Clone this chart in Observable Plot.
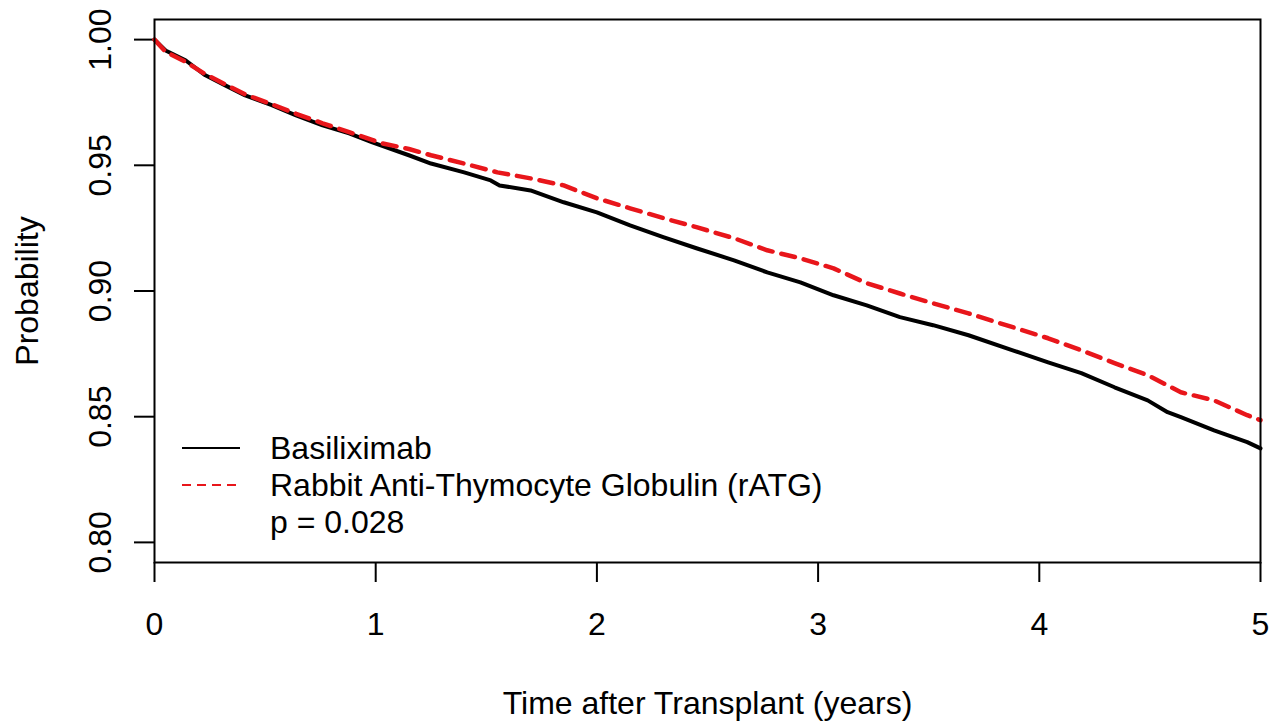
<!DOCTYPE html>
<html><head><meta charset="utf-8">
<script src="https://cdn.jsdelivr.net/npm/d3@7"></script>
<script src="https://cdn.jsdelivr.net/npm/@observablehq/plot@0.6"></script>
<style>html,body{margin:0;padding:0;background:#fff;} svg{display:block}</style>
</head><body><div id="chart"></div>
<script>
// Basiliximab (black solid)
const basiliximabTime = [0, 0.05, 0.14, 0.23, 0.32, 0.41, 0.53, 0.64, 0.76, 0.88, 0.985, 1.15, 1.25, 1.40, 1.52, 1.56, 1.70, 1.85, 2.0, 2.15, 2.30, 2.45, 2.62, 2.77, 2.92, 3.07, 3.22, 3.37, 3.52, 3.68, 3.88, 4.04, 4.19, 4.34, 4.49, 4.58, 4.64, 4.79, 4.94, 5.0];
const basiliximabSurv = [1.0, 0.9957, 0.9918, 0.9858, 0.9818, 0.9778, 0.9739, 0.9699, 0.9659, 0.9627, 0.9591, 0.954, 0.9507, 0.9472, 0.944, 0.942, 0.940, 0.9353, 0.9313, 0.9261, 0.9214, 0.9170, 0.9122, 0.9074, 0.9034, 0.8983, 0.8943, 0.8896, 0.8864, 0.8824, 0.8764, 0.8716, 0.8673, 0.8617, 0.8565, 0.8518, 0.8498, 0.8446, 0.8399, 0.8374];
// Rabbit Anti-Thymocyte Globulin (red dashed)
const ratgTime = [0, 0.05, 0.14, 0.23, 0.32, 0.41, 0.53, 0.64, 0.76, 0.88, 1.03, 1.15, 1.25, 1.40, 1.55, 1.70, 1.85, 2.0, 2.15, 2.30, 2.45, 2.62, 2.77, 2.92, 3.07, 3.22, 3.37, 3.52, 3.68, 3.88, 4.04, 4.19, 4.34, 4.49, 4.64, 4.79, 4.94, 5.0];
const ratgSurv = [1.0, 0.9952, 0.9912, 0.9862, 0.9822, 0.9782, 0.9743, 0.9705, 0.9667, 0.9632, 0.9587, 0.9565, 0.954, 0.9507, 0.9472, 0.9448, 0.942, 0.9369, 0.9329, 0.929, 0.9254, 0.921, 0.9162, 0.913, 0.909, 0.9031, 0.899, 0.8951, 0.8911, 0.8856, 0.8812, 0.8764, 0.8713, 0.8665, 0.8597, 0.8565, 0.8506, 0.8486];

const xTicks = [0, 1, 2, 3, 4, 5];
const yTicks = [0.80, 0.85, 0.90, 0.95, 1.00];
const seriesNames = ["Basiliximab", "Rabbit Anti-Thymocyte Globulin (rATG)"];
const pLabel = "p = 0.028";
const xLabel = "Time after Transplant (years)";
const yLabel = "Probability";

const basRows = basiliximabTime.map((t, i) => ({t, s: basiliximabSurv[i]}));
const ratgRows = ratgTime.map((t, i) => ({t, s: ratgSurv[i]}));

const font = "'Liberation Sans', Arial, Helvetica, sans-serif";
const RED = "#e8161b";

function legendMark(index, scales, values, dims) {
  const g = d3.create("svg:g").attr("font-family", font).attr("font-size", 32).attr("fill", "#000").attr("text-anchor", "start");
  const x0 = dims.marginLeft, yb = dims.height - dims.marginBottom;
  const items = [
    {name: seriesNames[0], stroke: "#000", dash: null},
    {name: seriesNames[1], stroke: RED, dash: "9,6"},
    {name: pLabel}
  ];
  items.forEach((it, i) => {
    const y = yb - 114 + i * 37;
    if (it.stroke) {
      const ln = g.append("line").attr("x1", x0 + 28).attr("x2", x0 + 86).attr("y1", y).attr("y2", y)
        .attr("stroke", it.stroke).attr("stroke-width", 2);
      if (it.dash) ln.attr("stroke-dasharray", it.dash);
    }
    g.append("text").attr("x", x0 + 116).attr("y", y).attr("dy", "0.35em").attr("text-anchor", "start").text(it.name);
  });
  return g.node();
}

const chart = Plot.plot({
  width: 1273, height: 721,
  marginLeft: 154, marginRight: 13, marginTop: 19, marginBottom: 159,
  style: {fontFamily: font, fontSize: "32px", color: "#000", background: "#fff"},
  x: {domain: [0, 5]},
  y: {domain: [0.792, 1.008]},
  marks: [
    Plot.axisX({ticks: xTicks, tickSize: 20, tickPadding: 30, tickFormat: d => String(d), strokeWidth: 2, fontSize: 32, label: null}),
    Plot.axisY({ticks: yTicks, tickSize: 20, tickFormat: () => "", strokeWidth: 2, label: null}),
    Plot.axisY({ticks: yTicks, tickSize: 0, tickPadding: 54, tickFormat: d3.format(".2f"), rotate: -90, textAnchor: "middle", lineAnchor: "middle", fontSize: 32, label: null}),
    Plot.line(basRows, {x: "t", y: "s", stroke: "#000", strokeWidth: 4}),
    Plot.line(ratgRows, {x: "t", y: "s", stroke: RED, strokeWidth: 4.5, strokeDasharray: "14,9"}),
    Plot.frame({stroke: "#000", strokeWidth: 2}),
    Plot.text([yLabel], {text: d => d, frameAnchor: "left", dx: -127, rotate: -90, textAnchor: "middle", lineAnchor: "middle", fontSize: 32}),
    Plot.text([xLabel], {text: d => d, frameAnchor: "bottom", dy: 141, textAnchor: "middle", lineAnchor: "middle", fontSize: 32}),
    legendMark
  ]
});
document.getElementById("chart").appendChild(chart);
</script>
</body></html>
